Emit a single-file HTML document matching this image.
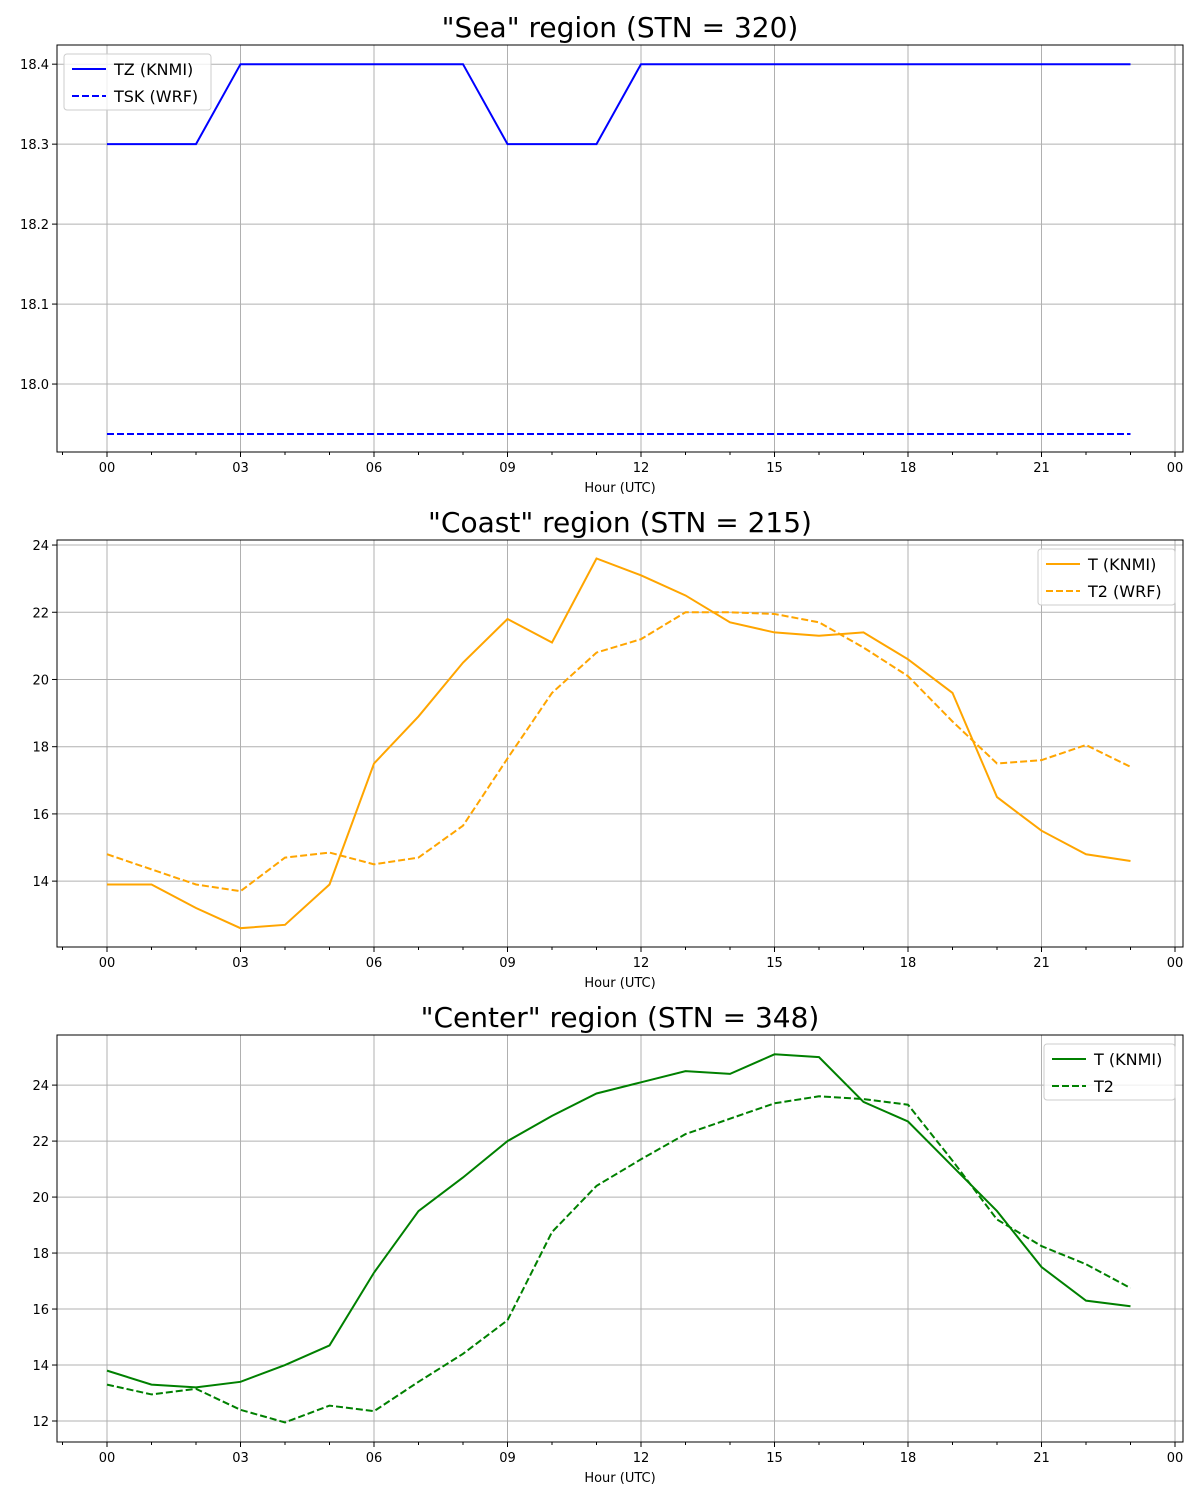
<!DOCTYPE html>
<html><head><meta charset="utf-8"><style>
body{margin:0;background:#fff}
svg{font-family:"DejaVu Sans","Liberation Sans",sans-serif;display:block}
</style></head><body>
<svg id="fig" width="1200" height="1500" viewBox="0 0 1200 1500" xmlns="http://www.w3.org/2000/svg"></svg>
<script>
const hours=[0,1,2,3,4,5,6,7,8,9,10,11,12,13,14,15,16,17,18,19,20,21,22,23];
const xTickLabels=["00","03","06","09","12","15","18","21","00"];
const seaTZ=[18.3,18.3,18.3,18.4,18.4,18.4,18.4,18.4,18.4,18.3,18.3,18.3,18.4,18.4,18.4,18.4,18.4,18.4,18.4,18.4,18.4,18.4,18.4,18.4];
const seaTSK=[17.9375,17.9375,17.9375,17.9375,17.9375,17.9375,17.9375,17.9375,17.9375,17.9375,17.9375,17.9375,17.9375,17.9375,17.9375,17.9375,17.9375,17.9375,17.9375,17.9375,17.9375,17.9375,17.9375,17.9375];
const coastT=[13.9,13.9,13.2,12.6,12.7,13.9,17.5,18.9,20.5,21.8,21.1,23.6,23.1,22.5,21.7,21.4,21.3,21.4,20.6,19.6,16.5,15.5,14.8,14.6];
const coastT2=[14.8,14.35,13.9,13.7,14.7,14.85,14.5,14.7,15.65,17.65,19.6,20.8,21.2,22.0,22.0,21.95,21.7,20.95,20.1,18.75,17.5,17.6,18.05,17.4];
const centerT=[13.8,13.3,13.2,13.4,14.0,14.7,17.3,19.5,20.7,22.0,22.9,23.7,24.1,24.5,24.4,25.1,25.0,23.4,22.7,21.1,19.5,17.5,16.3,16.1];
const centerT2=[13.3,12.95,13.15,12.4,11.95,12.55,12.35,13.4,14.4,15.6,18.75,20.4,21.35,22.25,22.8,23.35,23.6,23.5,23.3,21.3,19.2,18.25,17.6,16.75];
const seaYTicks=[18.0,18.1,18.2,18.3,18.4];
const coastYTicks=[14,16,18,20,22,24];
const centerYTicks=[12,14,16,18,20,22,24];

const svg=document.getElementById('fig');
const NS='http://www.w3.org/2000/svg';
function mk(tag,attrs,parent){const e=document.createElementNS(NS,tag);for(const k in attrs)e.setAttribute(k,attrs[k]);(parent||svg).appendChild(e);return e;}

const L=57,R=1183,X0=107,PXH=44.5;
const xs=h=>X0+h*PXH;

function panel(cfg){
  const g=mk('g',{});
  
  
  const ys=v=>cfg.bot-(v-cfg.ymin)/(cfg.ymax-cfg.ymin)*(cfg.bot-cfg.top);
  const t=mk('text',{x:620,y:cfg.top-8,'text-anchor':'middle','font-size':28},g);
  t.textContent=cfg.title;
  
  
  for(let i=0;i<xTickLabels.length;i++){
    const x=xs(i*3);
    mk('line',{x1:x,x2:x,y1:cfg.top,y2:cfg.bot,stroke:'#b0b0b0','stroke-width':1},g);
    mk('line',{x1:x,x2:x,y1:cfg.bot,y2:cfg.bot+5,stroke:'#000'},g);
    const lb=mk('text',{x:x,y:cfg.bot+20,'text-anchor':'middle','font-size':13},g);
    lb.textContent=xTickLabels[i];
    
    
  }
  for(let h=-1;h<=24;h++){ if(h%3===0)continue; const x=xs(h);
    mk('line',{x1:x,x2:x,y1:cfg.bot,y2:cfg.bot+3,stroke:'#000'},g);}
  cfg.yticks.forEach(v=>{
    const y=ys(v);
    mk('line',{x1:L,x2:R,y1:y,y2:y,stroke:'#b0b0b0'},g);
    mk('line',{x1:L-5,x2:L,y1:y,y2:y,stroke:'#000'},g);
    const lb=mk('text',{x:L-8,y:y+5,'text-anchor':'end','font-size':13},g);
    lb.textContent=cfg.fmt(v);
    
    
  });
  cfg.series.forEach(s=>{
    const p=mk('polyline',{points:hours.map((h,i)=>xs(h)+','+ys(s.data[i])).join(' '),fill:'none',stroke:s.color,'stroke-width':2,'stroke-dasharray':s.dash?'7,3':'none'},g);
    
    
  });
  mk('rect',{x:L,y:cfg.top,width:R-L,height:cfg.bot-cfg.top,fill:'none',stroke:'#000','stroke-width':1},g);
  const xl=mk('text',{x:620,y:cfg.bot+40,'text-anchor':'middle','font-size':13},g);
  xl.textContent='Hour (UTC)';
  
  
  const lg=mk('g',{},g);
  
  
  mk('rect',{x:cfg.lx,y:cfg.ly,width:cfg.lw,height:56,rx:3,fill:'#fff','fill-opacity':0.8,stroke:'#ccc'},lg);
  cfg.series.forEach((s,i)=>{
    const yy=cfg.ly+15+i*27;
    mk('line',{x1:cfg.lx+8,x2:cfg.lx+42,y1:yy,y2:yy,stroke:s.color,'stroke-width':2,'stroke-dasharray':s.dash?'7,3':'none'},lg);
    const tx=mk('text',{x:cfg.lx+50,y:yy+6,'font-size':16},lg);
    tx.textContent=s.label;
    
    
  });
}
panel({name:'sea',title:'"Sea" region (STN = 320)',top:45,bot:452,ymin:17.915,ymax:18.424,yticks:seaYTicks,fmt:v=>v.toFixed(1),
  series:[{id:'tz-knmi-line',data:seaTZ,color:'#0000ff',label:'TZ (KNMI)'},{id:'tsk-wrf-line',data:seaTSK,color:'#0000ff',dash:1,label:'TSK (WRF)'}],lx:64,ly:54,lw:147});
panel({name:'coast',title:'"Coast" region (STN = 215)',top:540,bot:947,ymin:12.04,ymax:24.15,yticks:coastYTicks,fmt:v=>String(v),
  series:[{id:'t-knmi-line',data:coastT,color:'#ffa500',label:'T (KNMI)'},{id:'t2-wrf-line',data:coastT2,color:'#ffa500',dash:1,label:'T2 (WRF)'}],lx:1038,ly:549,lw:137});
panel({name:'center',title:'"Center" region (STN = 348)',top:1035,bot:1442,ymin:11.25,ymax:25.79,yticks:centerYTicks,fmt:v=>String(v),
  series:[{id:'center-t-knmi-line',data:centerT,color:'#008000',label:'T (KNMI)'},{id:'center-t2-line',data:centerT2,color:'#008000',dash:1,label:'T2'}],lx:1044,ly:1044,lw:131});
</script>
</body></html>
